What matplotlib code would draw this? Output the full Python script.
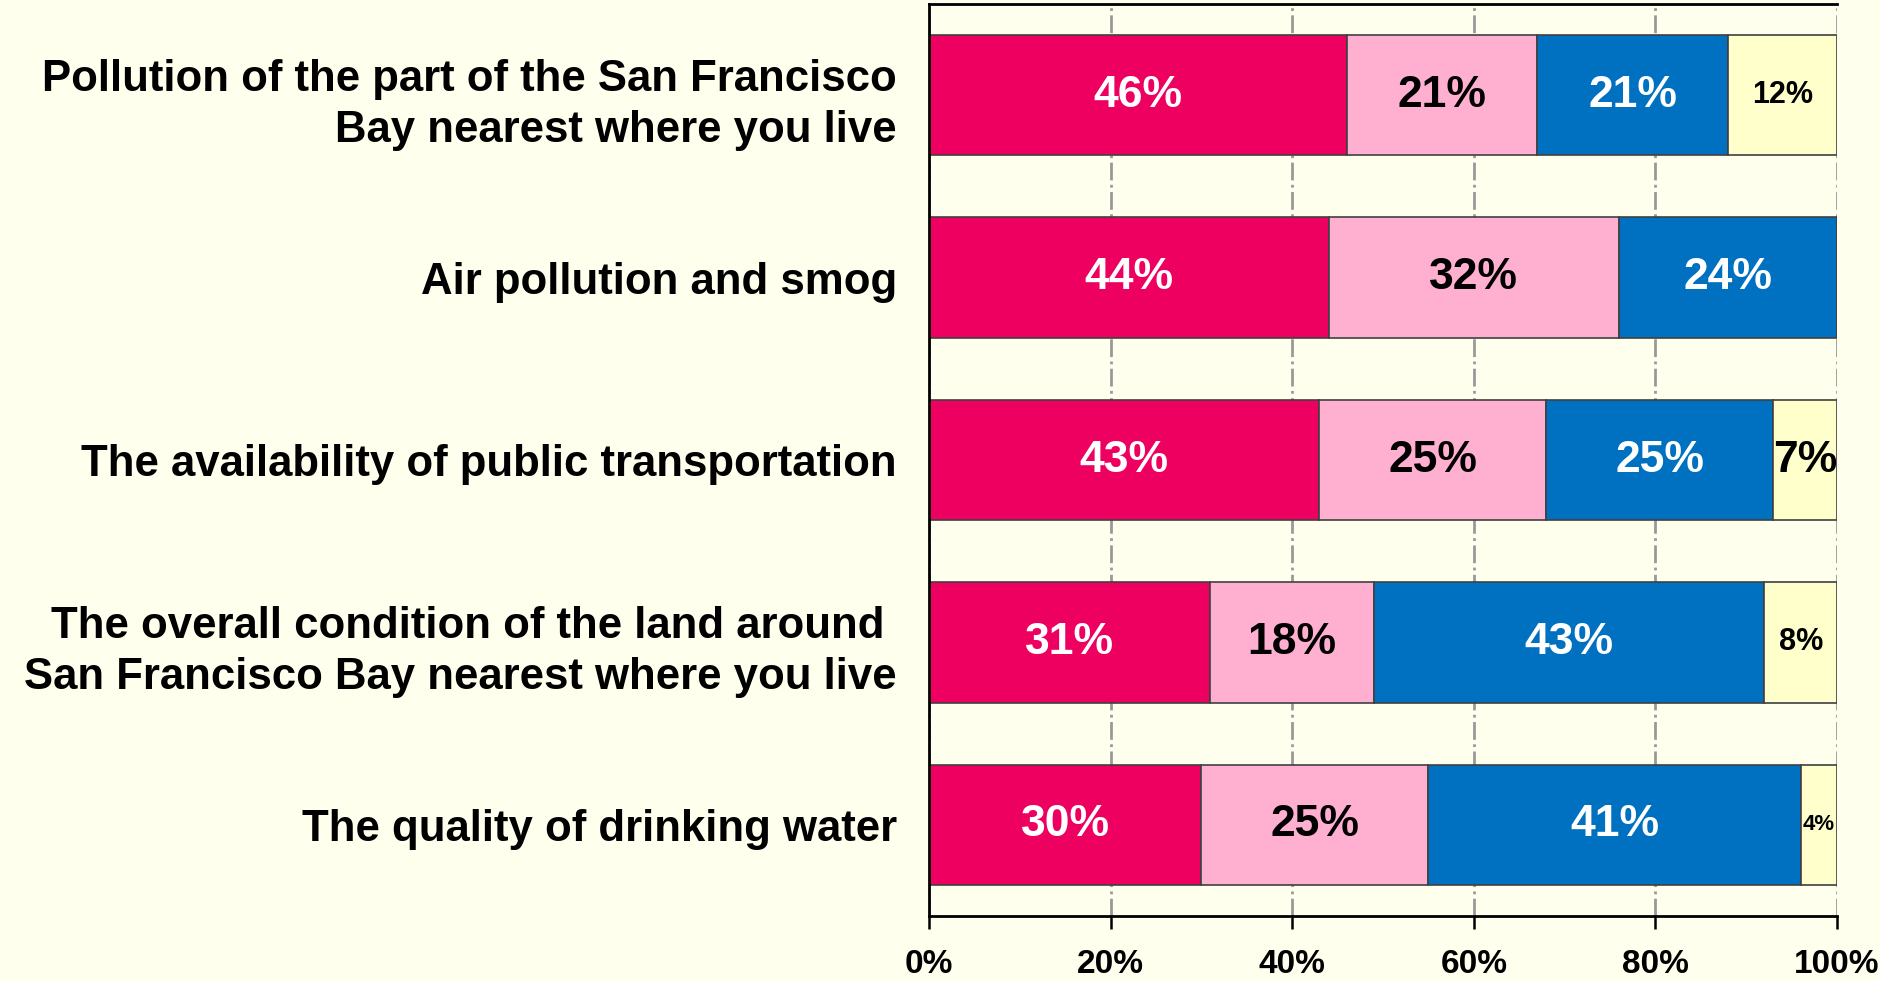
import matplotlib.pyplot as plt
import numpy as np

plt.rcParams['font.family'] = ['Liberation Sans', 'DejaVu Sans']
plt.rcParams['font.weight'] = 'bold'

categories = [
    'Pollution of the part of the San Francisco\nBay nearest where you live',
    'Air pollution and smog',
    'The availability of public transportation',
    'The overall condition of the land around \nSan Francisco Bay nearest where you live',
    'The quality of drinking water',
]
red_vals = [46, 44, 43, 31, 30]
pink_vals = [21, 32, 25, 18, 25]
blue_vals = [21, 24, 25, 43, 41]
yellow_vals = [12, 0, 7, 8, 4]

series = [red_vals, pink_vals, blue_vals, yellow_vals]
colors = ['#EE0060', '#FFB0D0', '#0070C0', '#FFFFCC']
text_colors = ['white', 'black', 'white', 'black']

bg = '#FFFFEE'
fig = plt.figure(figsize=(18.81, 9.81), dpi=100, facecolor=bg)
ax = fig.add_axes([929 / 1881, 1 - 916 / 981, (1837 - 929) / 1881, (916 - 4) / 981])
ax.set_facecolor(bg)

y = np.arange(len(categories))
left = np.zeros(len(categories))
for vals, col, tcol in zip(series, colors, text_colors):
    vals = np.array(vals, dtype=float)
    ax.barh(y, vals, left=left, height=0.66, color=col, edgecolor='#404040',
            linewidth=1.2, zorder=2)
    for yi, l, v in zip(y, left, vals):
        if v <= 0:
            continue
        # small values get smaller text, like the original
        fs = 32
        if col == '#FFFFCC' and v in (12, 8):
            fs = 22
        if v == 4:
            fs = 16
        ax.text(l + v / 2, yi, f'{int(v)}%', ha='center', va='center',
                color=tcol, fontsize=fs, fontweight='bold', zorder=3)
    left += vals

ax.set_xlim(0, 100)
ax.set_ylim(len(categories) - 0.5, -0.5)
ax.set_yticks(y)
ax.set_yticklabels(categories, fontsize=31.5, fontweight='bold', ha='right',
                   linespacing=1.32)
ax.tick_params(axis='y', length=0, pad=23)
ax.set_xticks([0, 20, 40, 60, 80, 100])
ax.set_xticklabels(['0%', '20%', '40%', '60%', '80%', '100%'], fontsize=24, fontweight='bold')
ax.tick_params(axis='x', length=9, width=1.8, direction='out', pad=15, color='black')

ax.grid(axis='x', color='#999999', linestyle='-.', linewidth=2, zorder=0)
ax.set_axisbelow(True)

for side in ['top', 'left', 'bottom']:
    ax.spines[side].set_linewidth(2)
    ax.spines[side].set_color('black')
ax.spines['right'].set_visible(False)

fig.savefig('out.png', dpi=100, facecolor=bg)
